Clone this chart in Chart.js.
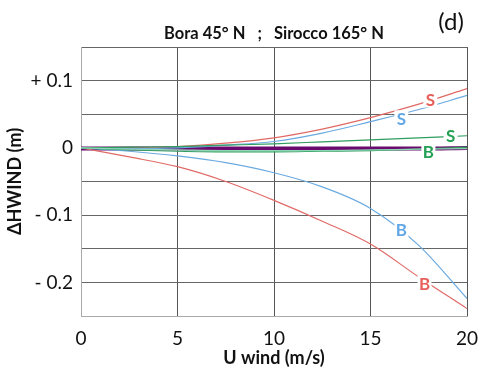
<!DOCTYPE html>
<html>
<head>
<meta charset="utf-8">
<script src="https://cdn.jsdelivr.net/npm/chart.js@4"></script>
<style>
  html, body { margin: 0; padding: 0; background: #fff; }
  #wrap { position: relative; width: 483px; height: 374px; }
</style>
</head>
<body>
<div id="wrap"><canvas id="grafico" width="483" height="374"></canvas></div>
<script>
// wind speed (m/s)
const uWind = [0, 2.5, 5, 7.5, 10, 12.5, 15, 17.5, 20];

// sea level change (m) per run
const rojoS   = [0, 0, 0.002, 0.007, 0.015, 0.028, 0.045, 0.065, 0.088];
const azulS   = [0, -0.001, 0, 0.004, 0.0095, 0.022, 0.039, 0.057, 0.078];
const verdeS  = [0, 0.001, 0.002, 0.004, 0.006, 0.009, 0.012, 0.015, 0.018];
const verdeB  = [0, -0.003, -0.005, -0.006, -0.006, -0.005, -0.004, -0.002, 0.001];
const mentaB  = [0, -0.002, -0.003, -0.004, -0.004, -0.004, -0.003, -0.002, -0.001];
const morado  = [-0.001, -0.001, -0.001, -0.001, -0.001, -0.001, -0.001, -0.001, 0];
const rojoB   = [0, -0.0135, -0.028, -0.05, -0.078, -0.109, -0.143, -0.192, -0.239];
const azulB   = [0, -0.005, -0.012, -0.022, -0.037, -0.058, -0.09, -0.145, -0.224];

// y ticks that carry a label
const etiquetasY = { "0.1": "+ 0.1", "0": "0", "-0.1": "- 0.1", "-0.2": "- 0.2" };

// curve tags (S = Sirocco, B = Bora)
const tagTexto = ["S", "S", "S", "B", "B", "B"];
const tagX     = [18.1, 16.6, 19.15, 18.0, 16.6, 17.8];
const tagY     = [0.072, 0.044, 0.019, -0.0055, -0.122, -0.201];
const tagColor = ["#e8605c", "#62a8e6", "#24a055", "#24a055", "#62a8e6", "#e8605c"];

const fuente = "Lato, 'Open Sans', sans-serif";

function serie(valores, color, ancho) {
    return {
        data: uWind.map((x, i) => ({ x: x, y: valores[i] })),
        borderColor: color,
        borderWidth: ancho,
        pointRadius: 0,
        cubicInterpolationMode: "monotone",
        fill: false
    };
}

// tags with a white box that breaks the line underneath
const etiquetas = {
    id: "etiquetas",
    afterDatasetsDraw(chart) {
        const c = chart.ctx;
        const sx = chart.scales.x, sy = chart.scales.y;
        c.save();
        c.font = "bold 17px " + fuente;
        c.textAlign = "center";
        c.textBaseline = "middle";
        tagTexto.forEach((t, i) => {
            const px = sx.getPixelForValue(tagX[i]);
            const py = sy.getPixelForValue(tagY[i]);
            c.fillStyle = "#fff";
            c.fillRect(px - 7, py - 8, 14, 16);
            c.fillStyle = tagColor[i];
            c.fillText(t, px, py + 1);
        });
        c.restore();
    }
};

// title centred over the plot, plus the panel letter
const cabecera = {
    id: "cabecera",
    afterDraw(chart) {
        const c = chart.ctx;
        const a = chart.chartArea;
        c.save();
        c.fillStyle = "#111";
        c.textAlign = "center";
        c.textBaseline = "middle";
        c.font = "bold 16.5px " + fuente;
        c.fillText("Bora 45° N   ;   Sirocco 165° N", (a.left + a.right) / 2, 34);
        c.font = "24px " + fuente;
        c.fillText("(d)", 451, 22);
        c.restore();
    }
};

const ctx = document.getElementById("grafico").getContext("2d");
new Chart(ctx, {
    type: "line",
    data: {
        datasets: [
            serie(mentaB, "#8fd6b8", 1.2),
            serie(verdeB, "#2f9e5e", 1.2),
            serie(verdeS, "#2f9e5e", 1.2),
            serie(azulB, "#6aaae0", 1.2),
            serie(rojoB, "#e06a66", 1.2),
            serie(azulS, "#6aaae0", 1.2),
            serie(rojoS, "#e06a66", 1.2),
            serie(morado, "#6b0a6e", 4)
        ]
    },
    options: {
        responsive: false,
        animation: false,
        layout: { padding: { left: 0, right: 16, top: 47, bottom: 5 } },
        plugins: {
            legend: { display: false },
            tooltip: { enabled: false }
        },
        scales: {
            x: {
                type: "linear",
                min: 0,
                max: 20,
                afterFit(scale) {
                    scale.height = 53;
                    scale.paddingRight = 0;
                },
                ticks: {
                    stepSize: 5,
                    color: "#111",
                    font: { family: fuente, size: 19 },
                    padding: 11
                },
                grid: { color: "#555", lineWidth: 1, drawTicks: false },
                border: { color: "#aaa" },
                title: {
                    display: true,
                    text: "U wind (m/s)",
                    color: "#111",
                    font: { family: fuente, size: 18, weight: "bold" },
                    padding: { top: 0, bottom: 0 }
                }
            },
            y: {
                min: -0.25,
                max: 0.15,
                afterFit(scale) { scale.width = 81; },
                ticks: {
                    stepSize: 0.05,
                    color: "#111",
                    font: { family: fuente, size: 19 },
                    padding: 8,
                    callback: v => etiquetasY[String(Math.round(v * 100) / 100)] || ""
                },
                grid: { color: "#666", lineWidth: 1, drawTicks: false },
                border: { color: "#aaa" },
                title: {
                    display: true,
                    text: "ΔHWIND (m)",
                    color: "#111",
                    font: { family: fuente, size: 18, weight: "bold" },
                    padding: { top: 4, bottom: 0 }
                }
            }
        }
    },
    plugins: [etiquetas, cabecera]
});
</script>
</body>
</html>
